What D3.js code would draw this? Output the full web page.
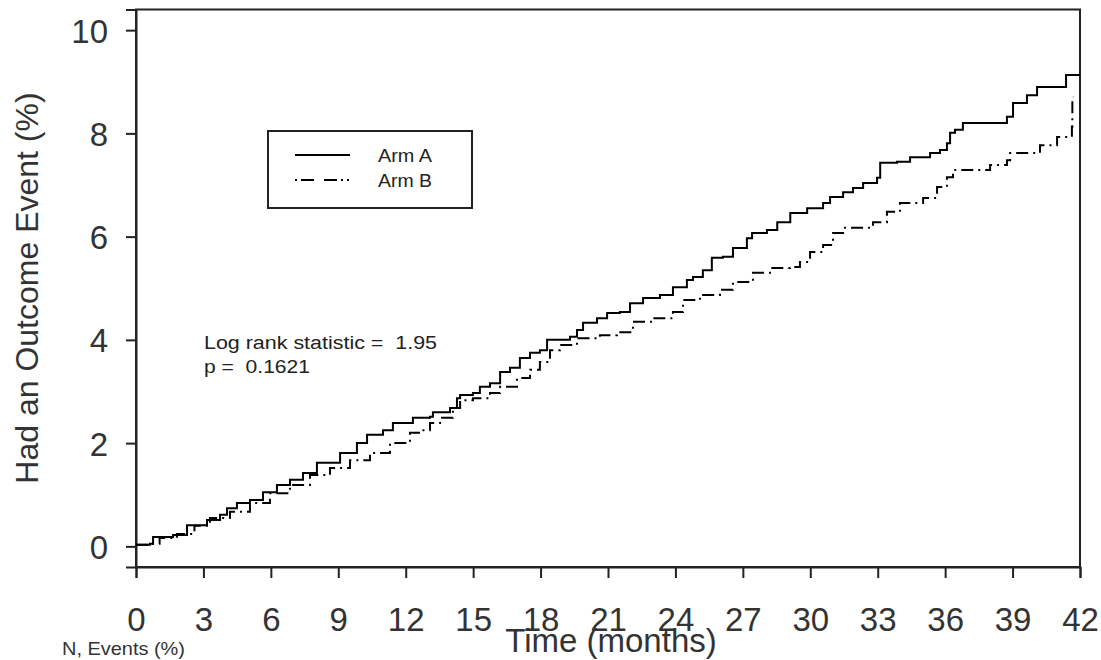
<!DOCTYPE html>
<html><head><meta charset="utf-8">
<script src="https://cdn.jsdelivr.net/npm/d3@7"></script>
<style>
body{margin:0;background:#fff;}
text{font-family:"Liberation Sans",Arial,sans-serif;}
</style></head>
<body><svg id="c" width="1101" height="660"></svg>
<script>
// ---- data ----
const armATime  = [0,0.62,0.76,1.65,2.27,3.16,3.74,4.05,4.49,5.07,5.65,6.27,6.85,7.43,8.05,9.08,9.83,10.28,10.99,11.43,12.32,13.08,13.21,13.97,14.28,14.42,14.99,15.30,15.75,16.20,16.64,17.08,17.53,17.97,18.29,19.31,19.62,19.89,20.51,20.96,21.53,21.98,22.56,23.31,23.89,24.51,24.78,25.22,25.62,26.11,26.56,27.18,27.41,28.07,28.53,29.11,29.86,30.57,30.88,31.46,31.90,32.35,32.97,33.11,33.86,34.44,35.33,35.77,36.08,36.22,36.44,36.79,38.75,39.02,39.64,40.09,41.38,42.0];
const armAValue = [0.03,0.05,0.18,0.22,0.41,0.51,0.61,0.74,0.84,0.90,1.05,1.19,1.29,1.42,1.62,1.81,2.00,2.16,2.25,2.39,2.49,2.51,2.60,2.68,2.87,2.93,2.97,3.09,3.16,3.38,3.46,3.65,3.75,3.80,4.00,4.06,4.19,4.33,4.42,4.52,4.54,4.71,4.81,4.87,5.02,5.16,5.22,5.35,5.59,5.61,5.78,5.97,6.07,6.13,6.28,6.46,6.55,6.65,6.77,6.86,6.94,7.04,7.14,7.43,7.45,7.54,7.62,7.68,7.81,8.01,8.07,8.20,8.32,8.59,8.74,8.90,9.13,9.13];
const armBTime  = [0,0.62,1.05,1.82,2.60,3.29,4.18,5.07,5.96,6.85,7.74,8.63,9.52,10.41,11.30,12.19,12.64,13.08,13.53,14.10,14.42,14.99,15.75,16.20,16.95,17.53,17.97,18.42,18.86,19.62,20.64,21.40,22.11,23.00,23.89,24.34,25.09,25.98,26.56,27.45,28.21,29.10,29.54,29.99,30.57,31.01,31.46,32.79,33.41,33.99,35.02,35.64,36.08,36.35,38.00,38.75,38.89,40.22,40.98,41.64,41.66,41.70];
const armBValue = [0.03,0.05,0.16,0.24,0.40,0.55,0.67,0.84,1.03,1.19,1.38,1.52,1.67,1.81,2.00,2.20,2.25,2.39,2.49,2.68,2.83,2.87,2.97,3.09,3.26,3.42,3.57,3.80,3.90,4.03,4.09,4.15,4.35,4.42,4.54,4.77,4.87,4.97,5.12,5.30,5.39,5.41,5.51,5.70,5.84,6.07,6.17,6.28,6.48,6.65,6.75,6.96,7.15,7.29,7.39,7.48,7.62,7.77,7.93,8.13,8.71,8.71];
const xTicks = [0,3,6,9,12,15,18,21,24,27,30,33,36,39,42];
const yTicks = [0,2,4,6,8,10];
const seriesNames = ["Arm A","Arm B"];
const statLines = ["Log rank statistic =  1.95","p =  0.1621"];

// ---- layout ----
const svg = d3.select("#c");
const L=136, R=1080, T=9.5, B=567;
const x = d3.scaleLinear().domain([0,42]).range([L,R]);
const y = d3.scaleLinear().domain([-0.4,10.4]).range([B,T]);
const ink = "#222";

// box
svg.append("rect").attr("x",L).attr("y",T).attr("width",R-L).attr("height",B-T)
  .attr("fill","none").attr("stroke",ink).attr("stroke-width",2);

// axes
const yAx = svg.append("g").attr("transform",`translate(${L},0)`)
  .call(d3.axisLeft(y).tickValues(yTicks).tickSize(10).tickPadding(18).tickFormat(d3.format("d")));
const xAx = svg.append("g").attr("transform",`translate(0,${B})`)
  .call(d3.axisBottom(x).tickValues(xTicks).tickSize(11).tickPadding(30).tickFormat(d3.format("d")));
[yAx,xAx].forEach(g=>{
  g.select(".domain").attr("stroke",ink).attr("stroke-width",2);
  g.selectAll(".tick line").attr("stroke",ink).attr("stroke-width",2);
  g.selectAll(".tick text").attr("fill","#333").attr("font-size",33)
   .attr("font-family","Liberation Sans, Arial, sans-serif");
});
yAx.selectAll(".tick text").attr("dy","0.36em");

// curves
const line = d3.line().x(d=>x(d[0])).y(d=>y(d[1])).curve(d3.curveStepAfter);
const dataA = d3.zip(armATime, armAValue);
const dataB = d3.zip(armBTime, armBValue);
svg.append("path").datum(dataA).attr("d",line).attr("fill","none")
  .attr("stroke","#000").attr("stroke-width",2);
svg.append("path").datum(dataB).attr("d",line).attr("fill","none")
  .attr("stroke","#000").attr("stroke-width",2).attr("stroke-dasharray","12,5,2,5");

// axis titles
svg.append("text").attr("x",611).attr("y",652).attr("text-anchor","middle")
  .attr("font-size",33).attr("fill","#333").text("Time (months)");
svg.append("text").attr("transform","translate(38,288) rotate(-90)").attr("text-anchor","middle")
  .attr("font-size",32).attr("fill","#333").text("Had an Outcome Event (%)");
svg.append("text").attr("x",62).attr("y",655).attr("font-size",19).attr("fill","#333")
  .attr("textLength",123).attr("lengthAdjust","spacingAndGlyphs").text("N, Events (%)");

// legend
const lg = svg.append("g");
lg.append("rect").attr("x",268).attr("y",131).attr("width",204).attr("height",77)
  .attr("fill","#fff").attr("stroke",ink).attr("stroke-width",2);
seriesNames.forEach((n,i)=>{
  const yy = 155 + i*25;
  lg.append("line").attr("x1",295).attr("x2",350).attr("y1",yy).attr("y2",yy)
    .attr("stroke","#000").attr("stroke-width",2)
    .attr("stroke-dasharray", i===1 ? "2,4,13,10,13,4,2,4,2" : null);
  lg.append("text").attr("x",378).attr("y",yy+7).attr("font-size",18).attr("fill","#222")
    .attr("textLength",54).attr("lengthAdjust","spacingAndGlyphs").text(n);
});

// stats
const statWidths = [233,106];
statLines.forEach((s,i)=>{
  svg.append("text").attr("x",204).attr("y",349+i*24).attr("font-size",18)
    .attr("fill","#222").attr("xml:space","preserve").style("white-space","pre")
    .attr("textLength",statWidths[i]).attr("lengthAdjust","spacingAndGlyphs").text(s);
});
</script></body></html>
